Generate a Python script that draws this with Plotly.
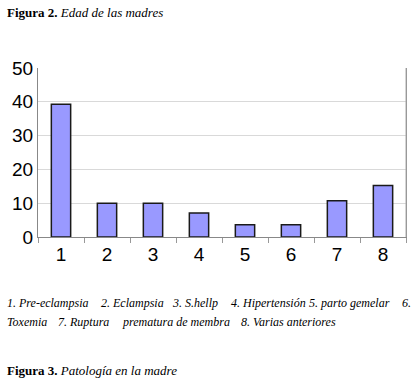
import plotly.graph_objects as go

categories = ["1", "2", "3", "4", "5", "6", "7", "8"]
values = [39.3, 10.0, 10.0, 7.1, 3.6, 3.6, 10.7, 15.2]
y_ticks = [0, 10, 20, 30, 40, 50]

caption_line1 = ["1. Pre-eclampsia", "2. Eclampsia", "3. S.hellp", "4. Hipertensión",
                 "5. parto gemelar", "6."]
caption_line2 = ["Toxemia", "7. Ruptura", "prematura de membra", "8. Varias anteriores"]
line1_x = [5, 99, 170, 229, 307, 400]
line2_x = [5, 56, 120, 239]

L, R, T, B = 38, 406, 68, 237
W, H = 419, 383

def px(x):
    return (x - L) / (R - L)

def py(y):
    return (B - y) / (B - T)

fig = go.Figure(go.Bar(
    x=categories, y=values,
    marker=dict(color="#9999FF", line=dict(color="#1a1a1a", width=1.5)),
    width=0.42,
))

serif = "Times New Roman, Liberation Serif, serif"
ann = [
    dict(text="<b>Figura 2.</b> <i>Edad de las madres</i>", x=5, y=12, s=13),
    dict(text="<b>Figura 3.</b> <i>Patología en la madre</i>", x=5, y=370, s=13),
]
for t, x in zip(caption_line1, line1_x):
    ann.append(dict(text=f"<i>{t}</i>", x=x, y=303, s=12))
for t, x in zip(caption_line2, line2_x):
    ann.append(dict(text=f"<i>{t}</i>", x=x, y=322, s=12))

annotations = []
for a in ann:
    annotations.append(dict(
        text=a["text"], x=px(a["x"]), y=py(a["y"]), xref="paper", yref="paper",
        xanchor="left", yanchor="middle", showarrow=False,
        font=dict(family=serif, size=a["s"], color="#000"),
    ))

fig.update_layout(
    width=W, height=H,
    margin=dict(l=L, r=W - R, t=T, b=H - B, pad=0, autoexpand=False),
    paper_bgcolor="white", plot_bgcolor="white",
    showlegend=False,
    annotations=annotations,
    xaxis=dict(
        type="category", range=[-0.5, 7.5], automargin=False,
        tickson="boundaries", ticks="outside", ticklen=5, tickcolor="#999",
        showline=True, linecolor="#888", linewidth=1, mirror=False,
        showgrid=False,
        tickfont=dict(family="Liberation Sans", size=19, color="#000"),
    ),
    yaxis=dict(
        range=[0, 50], tickvals=y_ticks, automargin=False,
        showline=True, linecolor="#888", linewidth=1, mirror=True,
        showgrid=True, gridcolor="#d9d9d9", gridwidth=1,
        ticks="", zeroline=False,
        tickfont=dict(family="Liberation Sans", size=19, color="#000"),
    ),
)
fig.add_shape(type="line", xref="paper", yref="paper", x0=1, x1=1, y0=0, y1=1,
              line=dict(color="#aaa", width=1))

fig.write_html("out.html", config={"displayModeBar": False},
               post_script="document.body.style.margin='0px';document.body.style.padding='0px';")
